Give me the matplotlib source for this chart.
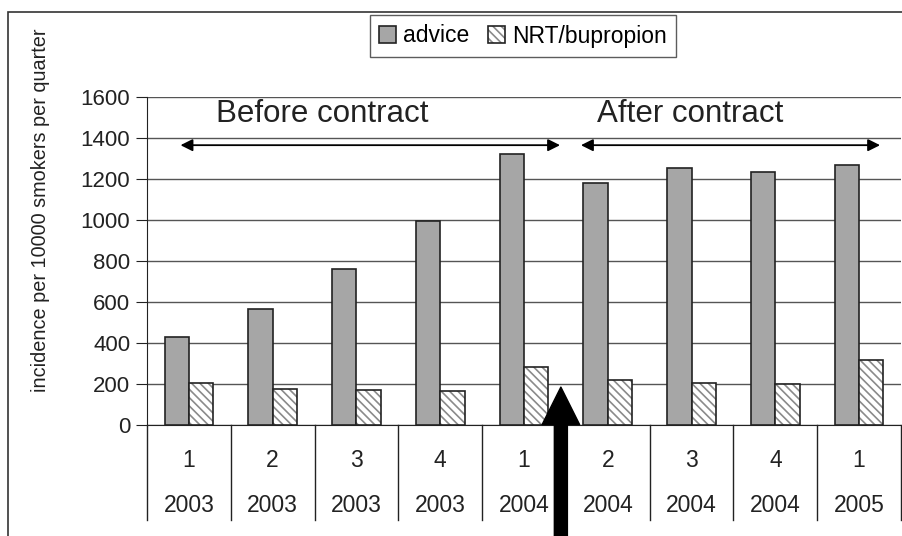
import matplotlib.pyplot as plt
import matplotlib.transforms as mtransforms
from matplotlib.patches import Rectangle
import numpy as np

plt.rcParams['font.family'] = ['Liberation Sans', 'DejaVu Sans']
plt.rcParams['hatch.linewidth'] = 1.2

# data
quarters = ['1', '2', '3', '4', '1', '2', '3', '4', '1']
years = ['2003', '2003', '2003', '2003', '2004', '2004', '2004', '2004', '2005']
advice = [430, 565, 760, 995, 1320, 1180, 1255, 1235, 1270]
nrt = [205, 178, 170, 168, 285, 220, 205, 198, 315]

fig = plt.figure(figsize=(9.03, 5.36), dpi=100)
ax = fig.add_axes([147 / 903, 1 - 425 / 536, 754 / 903, 328 / 536])

x = np.arange(len(quarters))
w = 0.29
adv_bars = ax.bar(x - w / 2, advice, w, color='#a6a6a6', edgecolor='#222222',
                  linewidth=1.2, zorder=3)
ax.bar(x + w / 2, nrt, w, color='white', edgecolor='#8a8a8a', hatch='\\\\\\\\',
       linewidth=0, zorder=3)
ax.bar(x + w / 2, nrt, w, fill=False, edgecolor='#222222', linewidth=1.2, zorder=4)

# legend handle for hatched bars: hatch plus dark outline
nrt_fill = Rectangle((0, 0), 1, 1, facecolor='white', edgecolor='#8a8a8a',
                     hatch='\\\\\\\\', linewidth=0)
nrt_edge = Rectangle((0, 0), 1, 1, fill=False, edgecolor='#222222', linewidth=1.2)

ax.set_xlim(-0.5, len(quarters) - 0.5)
ax.set_ylim(0, 1600)
ax.set_yticks(range(0, 1601, 200))
ax.yaxis.grid(True, color='#555555', linewidth=1, zorder=0)
ax.set_axisbelow(True)
ax.set_xticks([])
for s in ['top', 'right']:
    ax.spines[s].set_visible(False)
ax.spines['left'].set_color('#222222')
ax.spines['bottom'].set_color('#222222')
ax.tick_params(axis='y', labelsize=16, length=8, color='#222222', pad=4,
               labelcolor='#222222')
ax.set_ylabel('incidence per 10000 smokers per quarter', fontsize=14.3,
              color='#222222')
ax.yaxis.set_label_coords(-0.129, 0.655)

# category table below axis
trans = mtransforms.blended_transform_factory(ax.transData, ax.transAxes)
for i in range(len(quarters) + 1):
    ax.plot([i - 0.5, i - 0.5], [0, -0.29], transform=trans, color='#222222',
            linewidth=1, clip_on=False)
for i, (q, yr) in enumerate(zip(quarters, years)):
    ax.text(i, -0.107, q, transform=trans, ha='center', va='center', fontsize=16.5,
            color='#222222')
    ax.text(i, -0.244, yr, transform=trans, ha='center', va='center', fontsize=16.5,
            color='#222222')

# period arrows and labels
ax.annotate('', xy=(-0.1, 1365), xytext=(4.43, 1365),
            arrowprops=dict(arrowstyle='<|-|>', color='black', lw=1.3,
                            mutation_scale=18, shrinkA=0, shrinkB=0))
ax.annotate('', xy=(4.68, 1365), xytext=(8.25, 1365),
            arrowprops=dict(arrowstyle='<|-|>', color='black', lw=1.3,
                            mutation_scale=18, shrinkA=0, shrinkB=0))
ax.text(1.59, 1480, 'Before contract', ha='center', va='baseline', fontsize=22.5,
        color='#222222')
ax.text(5.98, 1480, 'After contract', ha='center', va='baseline', fontsize=22.5,
        color='#222222')

# big arrow marking the contract start
ax.annotate('', xy=(4.44, 185), xycoords='data',
            xytext=(4.44, -0.35), textcoords=trans,
            arrowprops=dict(facecolor='black', edgecolor='black', width=9.4,
                            headwidth=27, headlength=27),
            annotation_clip=False, zorder=6)

fig.legend(handles=[adv_bars.patches[0], (nrt_fill, nrt_edge)],
           labels=['advice', 'NRT/bupropion'],
           loc='center', bbox_to_anchor=(523 / 903, 1 - 36 / 536), ncol=2,
           fontsize=16.5, frameon=True, fancybox=False, edgecolor='#333333',
           handlelength=0.75, handleheight=0.75, handletextpad=0.3,
           columnspacing=0.8, borderpad=0.4)

# outer frame
fig.patches.append(Rectangle((8 / 903, -0.01), 1.0, 1 - 12 / 536 + 0.01,
                             transform=fig.transFigure, fill=False,
                             edgecolor='#333333', linewidth=1.2))

fig.savefig('out.png', dpi=100)
